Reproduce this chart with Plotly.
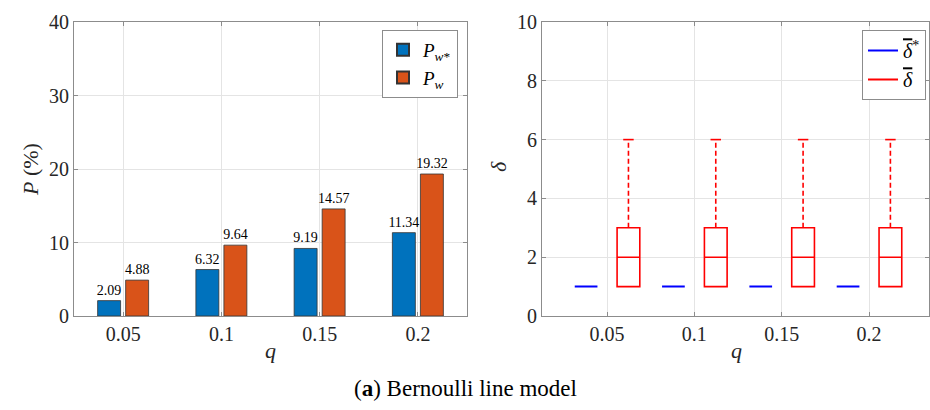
import plotly.graph_objects as go

# ---------------- data ----------------
q_labels = ["0.05", "0.1", "0.15", "0.2"]
q_index = [1, 2, 3, 4]
P_w_star = [2.09, 6.32, 9.19, 11.34]
P_w = [4.88, 9.64, 14.57, 19.32]

delta_star = [1, 1, 1, 1]
delta_lower = [1, 1, 1, 1]
delta_q1 = [1, 1, 1, 1]
delta_median = [2, 2, 2, 2]
delta_q3 = [3, 3, 3, 3]
delta_upper = [6, 6, 6, 6]

# ---------------- style ----------------
SERIF = "Liberation Serif"
BLUE_BAR = "#0072BD"
ORANGE_BAR = "#D95319"
AX_COL = "#8c8c8c"
GRID_COL = "#e4e4e4"
TXT = "#262626"
OFF_STAR = -0.24
OFF_BOX = 0.245
BOX_W = 0.26
CAP_W = 0.12

W, H = 930, 410
def px_x(p):
    return p / W
def px_y(p):
    return (H - p) / H

fig = go.Figure()

# left: bars
for vals, name, col in [(P_w_star, "<i>P</i><sub><i>w</i>*</sub>", BLUE_BAR),
                        (P_w, "<i>P</i><sub><i>w</i></sub>", ORANGE_BAR)]:
    fig.add_trace(go.Bar(
        x=q_index, y=vals, name=name,
        marker=dict(color=col, line=dict(color="#333333", width=0.8)),
        text=[f"{v:.2f}" for v in vals], textposition="outside",
        textfont=dict(family=SERIF, size=14, color="black"),
        cliponaxis=False, constraintext="none", textangle=0,
        xaxis="x", yaxis="y", legend="legend"))

# right: box plots
pos_star = [c + OFF_STAR for c in q_index]
pos_box = [c + OFF_BOX for c in q_index]

fig.add_trace(go.Box(
    x=pos_star, q1=delta_star, median=delta_star, q3=delta_star,
    lowerfence=delta_star, upperfence=delta_star,
    width=BOX_W, line=dict(color="#0000ff", width=2),
    fillcolor="rgba(0,0,0,0)", showlegend=False, hoverinfo="skip",
    xaxis="x2", yaxis="y2"))
fig.add_trace(go.Box(
    x=pos_box, q1=delta_q1, median=delta_median, q3=delta_q3,
    lowerfence=delta_lower, upperfence=delta_q3,
    width=BOX_W, line=dict(color="#ff0000", width=1.6),
    fillcolor="rgba(0,0,0,0)", showlegend=False, hoverinfo="skip",
    xaxis="x2", yaxis="y2"))

# dashed upper whiskers and caps
wx, wy, cx, cy = [], [], [], []
for p, q3, up in zip(pos_box, delta_q3, delta_upper):
    wx += [p, p, None]
    wy += [q3, up, None]
    cx += [p - CAP_W / 2, p + CAP_W / 2, None]
    cy += [up, up, None]
fig.add_trace(go.Scatter(x=wx, y=wy, mode="lines",
                         line=dict(color="#ff0000", width=1.6, dash="5px,3px"),
                         showlegend=False, hoverinfo="skip", xaxis="x2", yaxis="y2"))
fig.add_trace(go.Scatter(x=cx, y=cy, mode="lines",
                         line=dict(color="#ff0000", width=1.6),
                         showlegend=False, hoverinfo="skip", xaxis="x2", yaxis="y2"))

# legend proxies for right plot
OV = '<span style="text-decoration:overline">δ</span>'
fig.add_trace(go.Scatter(x=[None], y=[None], mode="lines", name=f"<i>{OV}</i><sup>*</sup>",
                         line=dict(color="#0000ff", width=2), xaxis="x2", yaxis="y2",
                         legend="legend2"))
fig.add_trace(go.Scatter(x=[None], y=[None], mode="lines", name=f"<i>{OV}</i>",
                         line=dict(color="#ff0000", width=2), xaxis="x2", yaxis="y2",
                         legend="legend2"))

axis_common = dict(showline=True, linecolor=AX_COL, linewidth=1, mirror="ticks",
                   ticks="inside", ticklen=4, tickcolor=AX_COL, automargin=False,
                   showgrid=True, gridcolor=GRID_COL, gridwidth=1, zeroline=False,
                   tickfont=dict(family=SERIF, size=20, color=TXT))

title_font = dict(family=SERIF, size=22, color=TXT)

fig.update_layout(
    width=W, height=H, margin=dict(l=0, r=0, t=0, b=0),
    paper_bgcolor="white", plot_bgcolor="white",
    barmode="group", bargap=0.43, bargroupgap=0.18,
    boxmode="overlay",
    xaxis=dict(domain=[px_x(74), px_x(467)], range=[0.5, 4.5],
               tickvals=q_index, ticktext=q_labels, anchor="y", **axis_common),
    yaxis=dict(domain=[px_y(316), px_y(22)], range=[0, 40], tickvals=[0, 10, 20, 30, 40],
               anchor="x", **axis_common),
    xaxis2=dict(domain=[px_x(542), px_x(929)], range=[0.255, 4.687],
                tickvals=q_index, ticktext=q_labels, anchor="y2", **axis_common),
    yaxis2=dict(domain=[px_y(316), px_y(22)], range=[0, 10], tickvals=[0, 2, 4, 6, 8, 10],
                anchor="x2", **axis_common),
    legend=dict(x=px_x(458), y=px_y(30), xanchor="right", yanchor="top",
                bgcolor="white", bordercolor="#8c8c8c", borderwidth=1,
                font=dict(family=SERIF, size=19, color="black"),
                itemsizing="constant", tracegroupgap=0),
    legend2=dict(x=px_x(926), y=px_y(30), xanchor="right", yanchor="top",
                 bgcolor="white", bordercolor="#8c8c8c", borderwidth=1,
                 font=dict(family=SERIF, size=20, color="black"),
                 itemwidth=30),
    annotations=[
        dict(text="(<b>a</b>) Bernoulli line model", x=px_x(465), y=px_y(388),
             xref="paper", yref="paper", xanchor="center", yanchor="middle",
             showarrow=False, font=dict(family=SERIF, size=23, color="black")),
        dict(text="<i>P</i> (%)", x=px_x(30), y=px_y(170), textangle=-90,
             xref="paper", yref="paper", xanchor="center", yanchor="middle",
             showarrow=False, font=title_font),
        dict(text="<i>q</i>", x=px_x(270), y=px_y(350),
             xref="paper", yref="paper", xanchor="center", yanchor="middle",
             showarrow=False, font=title_font),
        dict(text="<i>δ</i>", x=px_x(498), y=px_y(167), textangle=-90,
             xref="paper", yref="paper", xanchor="center", yanchor="middle",
             showarrow=False, font=title_font),
        dict(text="<i>q</i>", x=px_x(736), y=px_y(350),
             xref="paper", yref="paper", xanchor="center", yanchor="middle",
             showarrow=False, font=title_font),
    ],
)

fig.write_html("out.html", config={"displayModeBar": False},
               post_script="document.body.style.margin='0px';")
